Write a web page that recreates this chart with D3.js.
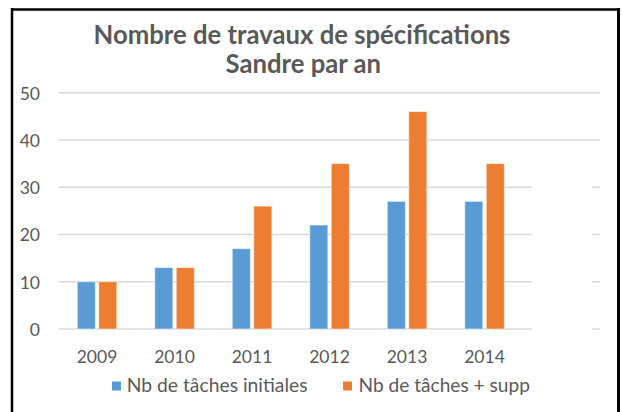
<!DOCTYPE html>
<html>
<head>
<meta charset="utf-8">
<script src="https://cdn.jsdelivr.net/npm/d3@7"></script>
<style>
  html, body { margin: 0; padding: 0; background: #fff; }
  svg { display: block; }
  text { font-family: Lato, "Open Sans", sans-serif; fill: #595959; }
</style>
</head>
<body>
<svg id="chart" width="622" height="412"></svg>
<script>
const titleLines = ["Nombre de travaux de spécifications", "Sandre par an"];
const years = ["2009", "2010", "2011", "2012", "2013", "2014"];
const seriesNames = ["Nb de tâches initiales", "Nb de tâches + supp"];
const initiales = [10, 13, 17, 22, 27, 27];
const supp = [10, 13, 26, 35, 46, 35];
const yTicks = [0, 10, 20, 30, 40, 50];
const colors = ["#5B9BD5", "#ED7D31"];

const svg = d3.select("#chart");

// helper: fit text to a target width
function fitWidth(sel, target) {
  const node = sel.node();
  const fs = parseFloat(sel.attr("font-size"));
  const w = node.getComputedTextLength();
  sel.attr("font-size", (fs * target / w).toFixed(2));
}

// frame
svg.append("line").attr("x1", 12).attr("x2", 12).attr("y1", 8).attr("y2", 412)
  .attr("stroke", "#000").attr("stroke-width", 2.5);
svg.append("line").attr("x1", 11).attr("x2", 620).attr("y1", 9.5).attr("y2", 9.5)
  .attr("stroke", "#000").attr("stroke-width", 2.5);
svg.append("line").attr("x1", 618.5).attr("x2", 618.5).attr("y1", 8).attr("y2", 412)
  .attr("stroke", "#000").attr("stroke-width", 3);

const x = d3.scaleBand().domain(years).range([58.3, 523.3]).paddingInner(0.49).paddingOuter(0.245);
const xs = d3.scaleBand().domain(seriesNames).range([0, x.bandwidth()]).paddingInner(0.16);
const y = d3.scaleLinear().domain([0, 50]).range([329, 92.7]);

// gridlines
const grid = svg.append("g");
yTicks.forEach(t => {
  if (t >= 40) {
    grid.append("line").attr("x1", 58.3).attr("x2", 600).attr("y1", y(t)).attr("y2", y(t))
      .attr("stroke", "#d9d9d9").attr("stroke-width", 1.5);
  } else {
    grid.append("line").attr("x1", 58.3).attr("x2", 532).attr("y1", y(t)).attr("y2", y(t))
      .attr("stroke", "#d9d9d9").attr("stroke-width", 1.5);
    grid.append("line").attr("x1", 592.3).attr("x2", 600).attr("y1", y(t)).attr("y2", y(t))
      .attr("stroke", "#d9d9d9").attr("stroke-width", 1.5);
  }
});

// y axis labels
const yAxis = d3.axisLeft(y).tickValues(yTicks).tickSize(0).tickPadding(0).tickFormat(d3.format("d"));
const yg = svg.append("g").attr("transform", "translate(40,0)").call(yAxis);
yg.select(".domain").remove();
yg.selectAll("text").attr("font-size", 18.5).attr("fill", "#595959")
  .style("font-family", "Lato, 'Open Sans', sans-serif").attr("x", 0).attr("dy", "0.36em");

// bars
const data = years.map((yr, i) => ({ year: yr, vals: [initiales[i], supp[i]] }));
const groups = svg.append("g").selectAll("g").data(data).join("g")
  .attr("transform", d => `translate(${x(d.year)},0)`);
groups.selectAll("rect").data(d => d.vals.map((v, j) => ({ v, s: seriesNames[j], j })))
  .join("rect")
  .attr("x", d => xs(d.s))
  .attr("width", xs.bandwidth())
  .attr("y", d => y(d.v))
  .attr("height", d => y(0) - y(d.v))
  .attr("fill", d => colors[d.j])
  .attr("stroke", "#ffffff").attr("stroke-opacity", 0.5).attr("stroke-width", 1);

// x labels
const xAxis = d3.axisBottom(x).tickSize(0).tickPadding(0);
const xg = svg.append("g").attr("transform", "translate(0,363.3)").call(xAxis);
xg.select(".domain").remove();
xg.selectAll("text").attr("font-size", 18.5).attr("fill", "#595959")
  .style("font-family", "Lato, 'Open Sans', sans-serif").attr("y", 0).attr("dy", 0);

// fit x label size
const probe = svg.append("text").attr("font-size", 20).text("2010");
fitWidth(probe, 40.7);
const fsLabel = probe.attr("font-size");
probe.remove();
xg.selectAll("text").attr("font-size", fsLabel);
yg.selectAll("text").attr("font-size", fsLabel);

// title
const t1 = svg.append("text").attr("x", 302).attr("y", 44.3).attr("text-anchor", "middle")
  .attr("font-weight", "bold").attr("font-size", 20).text(titleLines[0]);
fitWidth(t1, 417);
svg.append("text").attr("x", 303.3).attr("y", 73.3).attr("text-anchor", "middle")
  .attr("font-weight", "bold").attr("font-size", t1.attr("font-size")).text(titleLines[1]);

// legend
const legendPos = [{ sx: 112, tx: 126.7, w: 181 }, { sx: 343, tx: 358.5, w: 171.5 }];
seriesNames.forEach((name, i) => {
  svg.append("rect").attr("x", legendPos[i].sx).attr("y", 381.5).attr("width", 9).attr("height", 9)
    .attr("fill", colors[i]);
  const lt = svg.append("text").attr("x", legendPos[i].tx).attr("y", 391.7)
    .attr("font-size", 20).text(name);
  fitWidth(lt, legendPos[i].w);
});
</script>
</body>
</html>
